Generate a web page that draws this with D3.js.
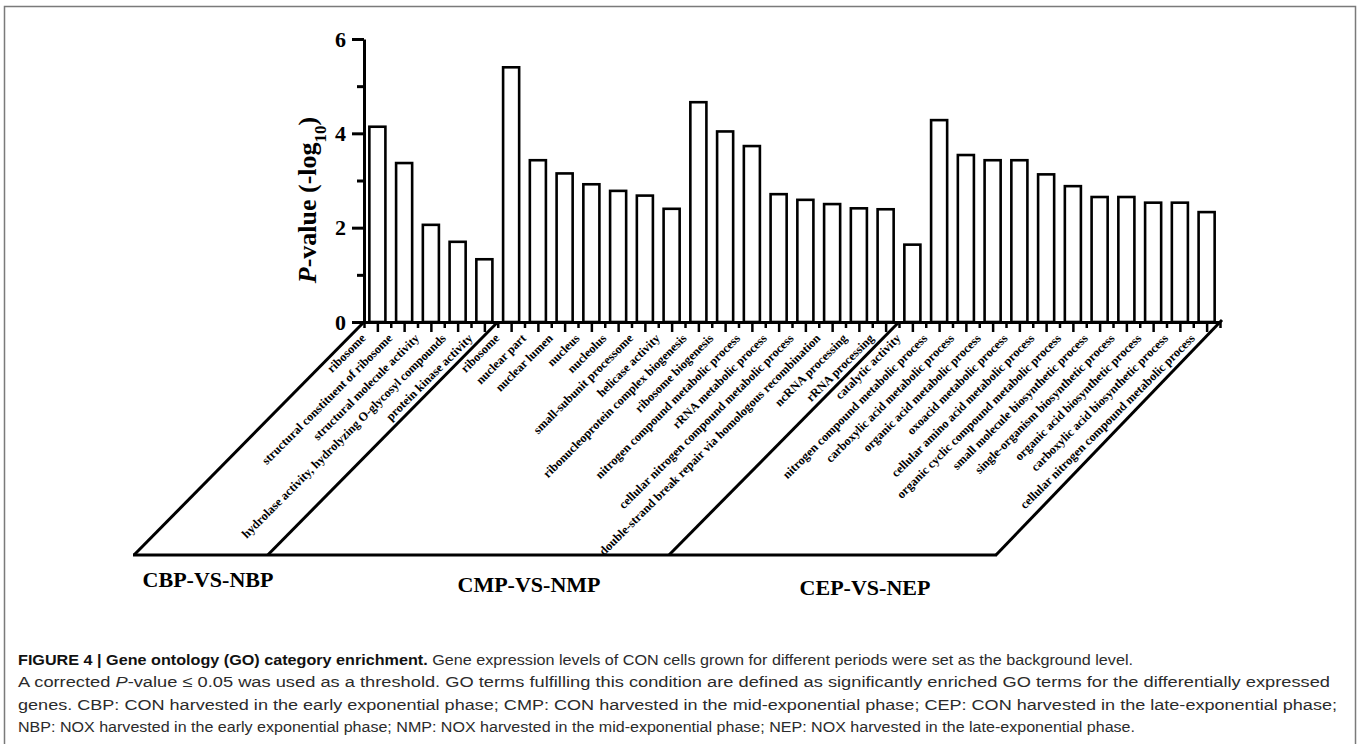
<!DOCTYPE html>
<html>
<head>
<meta charset="utf-8">
<script src="https://cdn.jsdelivr.net/npm/d3@7/dist/d3.min.js"></script>
<style>
    body { margin: 0; background: #fff; }
    svg text { font-family: "Liberation Serif", "Times New Roman", serif; font-weight: bold; }
    svg text.cap { font-family: "Liberation Sans", Arial, sans-serif; font-weight: normal; fill: #2b2b2b; }
</style>
</head>
<body>
<svg width="1360" height="744"></svg>
<script>
// ---- data ----
var groupNames = ["CBP-VS-NBP", "CMP-VS-NMP", "CEP-VS-NEP"];

var cbpTerms = ["ribosome", "structural constituent of ribosome", "structural molecule activity",
    "hydrolase activity, hydrolyzing O-glycosyl compounds", "protein kinase activity"];
var cbpValues = [4.14, 3.37, 2.06, 1.70, 1.33];

var cmpTerms = ["ribosome", "nuclear part", "nuclear lumen", "nucleus", "nucleolus",
    "small-subunit processome", "helicase activity", "ribonucleoprotein complex biogenesis",
    "ribosome biogenesis", "nitrogen compound metabolic process", "rRNA metabolic process",
    "cellular nitrogen compound metabolic process",
    "double-strand break repair via homologous recombination", "ncRNA processing", "rRNA processing"];
var cmpValues = [5.40, 3.43, 3.15, 2.92, 2.78, 2.68, 2.40, 4.66, 4.04, 3.73, 2.71, 2.59, 2.50, 2.41, 2.39];

var cepTerms = ["catalytic activity", "nitrogen compound metabolic process",
    "carboxylic acid metabolic process", "organic acid metabolic process",
    "oxoacid metabolic process", "cellular amino acid metabolic process",
    "organic cyclic compound metabolic process", "small molecule biosynthetic process",
    "single-organism biosynthetic process", "organic acid biosynthetic process",
    "carboxylic acid biosynthetic process", "cellular nitrogen compound metabolic process"];
var cepValues = [1.64, 4.28, 3.54, 3.43, 3.43, 3.13, 2.88, 2.65, 2.65, 2.53, 2.53, 2.33];

var yTickValues = [0, 1, 2, 3, 4, 5, 6];
var yTickLabels = ["0", "", "2", "", "4", "", "6"];

var captionLines = [
    [["b", "FIGURE 4 | Gene ontology (GO) category enrichment."], ["n", " Gene expression levels of CON cells grown for different periods were set as the background level."]],
    [["n", "A corrected "], ["i", "P"], ["n", "-value \u2264 0.05 was used as a threshold. GO terms fulfilling this condition are defined as significantly enriched GO terms for the differentially expressed"]],
    [["n", "genes. CBP: CON harvested in the early exponential phase; CMP: CON harvested in the mid-exponential phase; CEP: CON harvested in the late-exponential phase;"]],
    [["n", "NBP: NOX harvested in the early exponential phase; NMP: NOX harvested in the mid-exponential phase; NEP: NOX harvested in the late-exponential phase."]]
];

// ---- layout ----
var svg = d3.select("svg");
var left = 364, right = 1220, y0 = 322, yTop = 39;
var slant = 230;                 // horizontal run of the receding group planes
var floorY = y0 + 233;
var groupLabelPos = [[208, 587], [529, 592], [865, 595]];
var captionEnds = [1133, 1330, 1337, 1135];

var bars = [];
[[cbpTerms, cbpValues], [cmpTerms, cmpValues], [cepTerms, cepValues]].forEach(function (g, gi) {
    g[0].forEach(function (t, i) { bars.push({ term: t, value: g[1][i], group: gi }); });
});
var n = bars.length;

var x = d3.scaleBand()
    .domain(d3.range(n))
    .range([left, right])
    .paddingInner(0.4)
    .paddingOuter(0.2);
var step = x.step();

var y = d3.scaleLinear().domain([0, 6]).range([y0, yTop]);

// outer frame
svg.append("rect")
    .attr("x", 4.5).attr("y", 6.5)
    .attr("width", 1351).attr("height", 760)
    .attr("fill", "none")
    .attr("stroke", "#7a7a7a")
    .attr("stroke-width", 1.5);

// group planes
var bounds = [0, cbpTerms.length, cbpTerms.length + cmpTerms.length, n].map(function (k) { return left + k * step; });
svg.append("g")
    .attr("class", "planes")
    .selectAll("line")
    .data(bounds)
    .enter().append("line")
    .attr("x1", function (d, i) { return i === 3 ? d + 2 : d; })
    .attr("y1", function (d, i) { return i === 3 ? y0 - 2 : y0; })
    .attr("x2", function (d, i) { return i === 3 ? d - slant + 6 : d - slant; })
    .attr("y2", floorY)
    .attr("stroke", "#000")
    .attr("stroke-width", 3);

svg.append("line")
    .attr("x1", bounds[0] - slant - 1).attr("y1", floorY)
    .attr("x2", bounds[3] - slant + 7).attr("y2", floorY)
    .attr("stroke", "#000")
    .attr("stroke-width", 3);

// bars
svg.append("g")
    .attr("class", "bars")
    .selectAll("rect")
    .data(bars)
    .enter().append("rect")
    .attr("x", function (d, i) { return x(i); })
    .attr("y", function (d) { return y(d.value); })
    .attr("width", x.bandwidth())
    .attr("height", function (d) { return y(0) - y(d.value); })
    .attr("fill", "#fff")
    .attr("stroke", "#000")
    .attr("stroke-width", 2.6);

// x axis: ticks at bar centres (long) and between bars (short)
var xt = d3.scaleLinear().domain([0, 2 * n]).range([left, right]);
var xAxis = svg.append("g")
    .attr("transform", "translate(0," + y0 + ")")
    .call(d3.axisBottom(xt).tickValues(d3.range(0, 2 * n + 1)).tickFormat("").tickSize(10).tickSizeOuter(0));
xAxis.select(".domain").attr("stroke-width", 3);
xAxis.selectAll(".tick line")
    .attr("stroke-width", 2.5)
    .attr("y2", function (d) { return d % 2 ? 10 : 6; });

// y axis
var yAxis = svg.append("g")
    .attr("transform", "translate(" + left + ",0)")
    .call(d3.axisLeft(y).tickValues(yTickValues)
        .tickFormat(function (d, i) { return yTickLabels[i]; })
        .tickSize(12).tickSizeOuter(0).tickPadding(6));
yAxis.select(".domain").attr("stroke-width", 3);
yAxis.selectAll(".tick line")
    .attr("stroke-width", 3)
    .attr("x2", function (d) { return d % 2 ? -7 : -12; });
yAxis.selectAll(".tick text")
    .attr("font-family", null)
    .style("font-size", "22px")
    .attr("fill", "#000");

// y title
var yTitle = svg.append("text")
    .attr("transform", "translate(316,200) rotate(-90)")
    .attr("text-anchor", "middle")
    .style("font-size", "26px");
yTitle.append("tspan").style("font-style", "italic").text("P");
yTitle.append("tspan").text("-value (-log");
yTitle.append("tspan").attr("baseline-shift", "sub").style("font-size", "17px").text("10");
yTitle.append("tspan").text(")");

// category labels
svg.append("g")
    .attr("class", "terms")
    .selectAll("text")
    .data(bars)
    .enter().append("text")
    .attr("transform", function (d, i) {
        return "translate(" + (x(i) + x.bandwidth() / 2 - 11) + "," + (y0 + 17) + ") rotate(-45)";
    })
    .attr("text-anchor", "end")
    .style("font-size", "12.3px")
    .text(function (d) { return d.term; });

// group names
svg.append("g")
    .selectAll("text")
    .data(groupNames)
    .enter().append("text")
    .attr("x", function (d, i) { return groupLabelPos[i][0]; })
    .attr("y", function (d, i) { return groupLabelPos[i][1]; })
    .attr("text-anchor", "middle")
    .style("font-size", "22px")
    .text(function (d) { return d; });

// caption
captionLines.forEach(function (line, li) {
    var t = svg.append("text")
        .attr("class", "cap")
        .attr("x", 18)
        .attr("y", 665 + li * 22.3)
        .attr("textLength", captionEnds[li] - 18)
        .attr("lengthAdjust", "spacingAndGlyphs")
        .style("font-size", "15.5px");
    line.forEach(function (p) {
        var s = t.append("tspan").text(p[1]);
        if (p[0] === "b") s.style("font-weight", "bold").style("fill", "#111");
        if (p[0] === "i") s.style("font-style", "italic");
    });
});
</script>
</body>
</html>
